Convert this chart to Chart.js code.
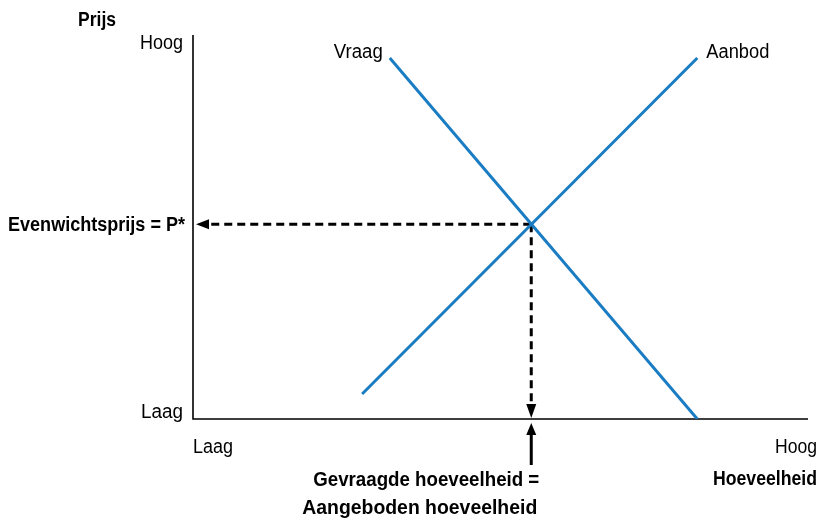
<!DOCTYPE html>
<html>
<head>
<meta charset="utf-8">
<script src="https://cdn.jsdelivr.net/npm/chart.js@4"></script>
<style>
html,body{margin:0;padding:0;background:#fff;}
#wrap{width:825px;height:519px;position:relative;}
</style>
</head>
<body>
<div id="wrap"><canvas id="c"></canvas></div>
<script>
// Data (quantity on x, price on y; arbitrary units 0–10)
const demandQ = [3.2, 8.2];
const demandP = [9.4, 0];
const supplyQ = [2.75, 8.2];
const supplyP = [0.65, 9.4];
const equilibriumQ = 5.5;
const equilibriumP = 5.07;
const seriesNames = ['Vraag', 'Aanbod'];
const axisLabels = {yTitle: 'Prijs', xTitle: 'Hoeveelheid', low: 'Laag', high: 'Hoog'};
const eqPriceLabel = 'Evenwichtsprijs = P*';
const eqQtyLabel = ['Gevraagde hoeveelheid =', 'Aangeboden hoeveelheid'];

const BLUE = '#1a7cc2';
const FAM = "'Liberation Sans','Arimo',Arial,sans-serif";
const REG = "20px " + FAM, BOLD = "bold 20px " + FAM;

function pts(xs, ys){ return xs.map((x,i)=>({x, y: ys[i]})); }

function arrowHead(ctx, x, y, dir, len, half){
  ctx.beginPath();
  if(dir==='left'){ ctx.moveTo(x,y); ctx.lineTo(x+len,y-half); ctx.lineTo(x+len,y+half); }
  if(dir==='down'){ ctx.moveTo(x,y); ctx.lineTo(x-half,y-len); ctx.lineTo(x+half,y-len); }
  if(dir==='up'){ ctx.moveTo(x,y); ctx.lineTo(x-half,y+len); ctx.lineTo(x+half,y+len); }
  ctx.closePath(); ctx.fill();
}

// draw text condensed horizontally to a given width (reference uses a condensed face)
function drawFit(ctx, text, x, y, align, font, w){
  ctx.font = font;
  const m = ctx.measureText(text).width;
  const s = w / m;
  ctx.save();
  ctx.translate(x, y);
  ctx.scale(s, 1);
  ctx.textAlign = align;
  ctx.textBaseline = 'alphabetic';
  ctx.fillText(text, 0, 0);
  ctx.restore();
}

const overlay = {
  id: 'overlay',
  beforeDatasetsDraw(chart){
    const {ctx, chartArea:a, scales:{x, y}} = chart;
    ctx.save();
    // axes
    ctx.strokeStyle = '#000'; ctx.lineWidth = 1.6;
    ctx.beginPath();
    ctx.moveTo(a.left, a.top); ctx.lineTo(a.left, a.bottom); ctx.lineTo(a.right, a.bottom);
    ctx.stroke();
    // dashed guides
    const ex = x.getPixelForValue(equilibriumQ), ey = y.getPixelForValue(equilibriumP);
    ctx.setLineDash([8,5]); ctx.lineWidth = 3;
    ctx.beginPath(); ctx.moveTo(ex, ey); ctx.lineTo(a.left+13, ey); ctx.stroke();
    ctx.beginPath(); ctx.moveTo(ex, ey); ctx.lineTo(ex, a.bottom-13); ctx.stroke();
    ctx.setLineDash([]);
    ctx.fillStyle = '#000';
    arrowHead(ctx, a.left+3, ey, 'left', 13, 5);
    arrowHead(ctx, ex, a.bottom-1, 'down', 14, 5);
    // up arrow below axis
    ctx.lineWidth = 3;
    ctx.beginPath(); ctx.moveTo(ex, a.bottom+46); ctx.lineTo(ex, a.bottom+14); ctx.stroke();
    arrowHead(ctx, ex, a.bottom+4, 'up', 12, 5);
    ctx.restore();
  },
  afterDatasetsDraw(chart){
    const {ctx, chartArea:a, scales:{x, y}} = chart;
    ctx.save();
    ctx.fillStyle = '#000';
    drawFit(ctx, axisLabels.yTitle, 78, 26, 'left', BOLD, 38);
    drawFit(ctx, axisLabels.high, a.left-10, a.top+14, 'right', REG, 43);
    drawFit(ctx, axisLabels.low, a.left-10, a.bottom-1, 'right', REG, 42);
    drawFit(ctx, axisLabels.low, a.left, a.bottom+34, 'left', REG, 40);
    drawFit(ctx, axisLabels.high, a.right+9, a.bottom+34, 'right', REG, 42);
    drawFit(ctx, axisLabels.xTitle, a.right+9, a.bottom+66, 'right', BOLD, 104);
    drawFit(ctx, eqPriceLabel, a.left-8, y.getPixelForValue(equilibriumP)+7, 'right', BOLD, 177);
    const ex = x.getPixelForValue(equilibriumQ);
    drawFit(ctx, eqQtyLabel[0], ex+8, a.bottom+67, 'right', BOLD, 226);
    drawFit(ctx, eqQtyLabel[1], ex+6, a.bottom+95, 'right', BOLD, 235);
    // series labels
    drawFit(ctx, seriesNames[0], x.getPixelForValue(demandQ[0])-7, y.getPixelForValue(demandP[0])+0, 'right', REG, 49);
    drawFit(ctx, seriesNames[1], x.getPixelForValue(supplyQ[1])+9, y.getPixelForValue(supplyP[1])+0, 'left', REG, 63);
    ctx.restore();
  }
};

new Chart(document.getElementById('c'), {
  type: 'scatter',
  data: {
    datasets: [
      {label: seriesNames[0], data: pts(demandQ, demandP), showLine: true, borderColor: BLUE, borderWidth: 3, pointRadius: 0, borderCapStyle: 'butt'},
      {label: seriesNames[1], data: pts(supplyQ, supplyP), showLine: true, borderColor: BLUE, borderWidth: 3, pointRadius: 0, borderCapStyle: 'butt'}
    ]
  },
  options: {
    responsive: true,
    maintainAspectRatio: false,
    animation: false,
    layout: {padding: {left: 193, top: 35, right: 17, bottom: 100}},
    plugins: {legend: {display: false}, tooltip: {enabled: false}},
    scales: {
      x: {type: 'linear', min: 0, max: 10, display: false},
      y: {type: 'linear', min: 0, max: 10, display: false}
    }
  },
  plugins: [overlay]
});
</script>
</body>
</html>
